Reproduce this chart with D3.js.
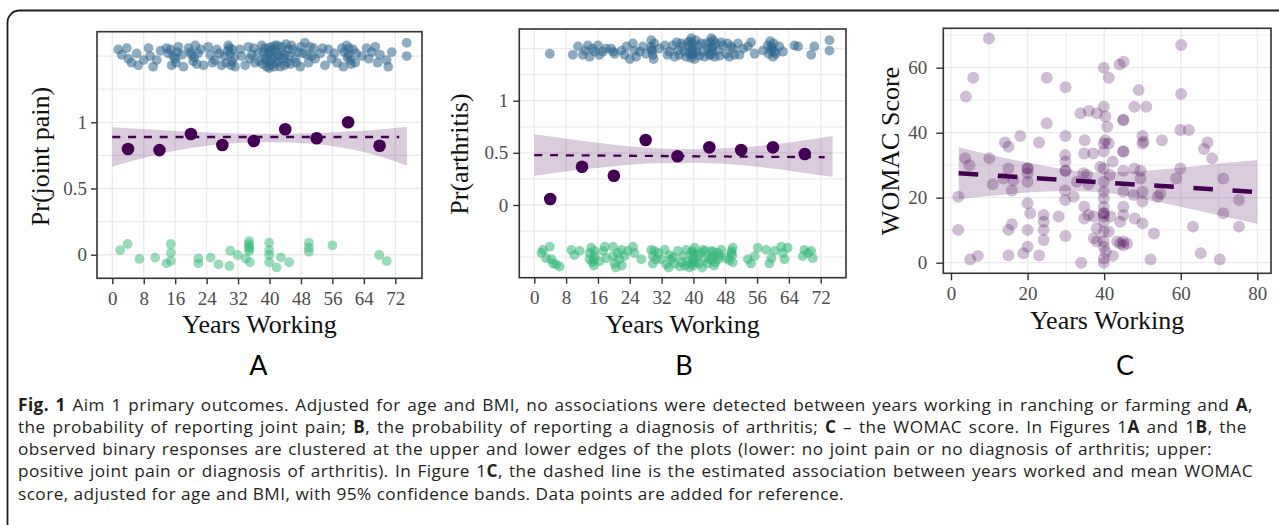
<!DOCTYPE html>
<html><head><meta charset="utf-8">
<script src="https://cdn.jsdelivr.net/npm/d3@7"></script>
<style>body{margin:0;background:#fff;}svg{display:block;}</style>
</head><body>
<svg id="fig" width="1279" height="525"></svg>
<script>
// ---------------- DATA ----------------
const xTicksAB = [0, 8, 16, 24, 32, 40, 48, 56, 64, 72];
const xTicksC = [0, 20, 40, 60, 80];
const xMinorC = [10, 30, 50, 70];
const yTicksA = [0, 0.5, 1];
const yTickLabelsA = ["0", "0.5", "1"];
const yGridA = [0, 0.25, 0.5, 0.75, 1, 1.25, 1.5];
const yTicksB = [0, 0.5, 1];
const yTickLabelsB = ["0", "0.5", "1"];
const yGridB = [-0.5, -0.25, 0, 0.25, 0.5, 0.75, 1, 1.25, 1.5];
const yTicksC = [0, 20, 40, 60];
const yMinorC = [10, 30, 50, 70];

// binned means (purple dots)
const binMids = [4, 12, 20, 28, 36, 44, 52, 60, 68];
const meansA = [0.798, 0.790, 0.912, 0.829, 0.859, 0.947, 0.879, 1.0, 0.823];
const meansB = [0.057, 0.367, 0.280, 0.623, 0.467, 0.553, 0.527, 0.553, 0.489];

// fitted lines (dashed)
const fitXA = [0, 73], fitYA = [0.889, 0.889];
const fitXB = [0, 73], fitYB = [0.479, 0.458];
const fitXC = [2, 79], fitYC = [27.5, 21.8];

// confidence bands
const bandXAB = [0, 10, 20, 30, 40, 50, 60, 70, 75];
const bandHiA = [0.962, 0.945, 0.928, 0.917, 0.913, 0.918, 0.930, 0.952, 0.967];
const bandLoA = [0.665, 0.745, 0.805, 0.840, 0.850, 0.840, 0.800, 0.725, 0.672];
const bandHiB = [0.678, 0.625, 0.578, 0.545, 0.535, 0.548, 0.580, 0.632, 0.662];
const bandLoB = [0.280, 0.330, 0.372, 0.400, 0.405, 0.388, 0.350, 0.295, 0.271];
const bandXC = [2, 10, 20, 30, 40, 50, 60, 70, 80];
const bandHiC = [35.5, 33.3, 30.8, 28.7, 27.8, 28.2, 29.2, 30.5, 31.6];
const bandLoC = [19.6, 20.5, 21.6, 22.1, 21.6, 19.6, 17.2, 14.5, 12.0];

// observed responses, A (joint pain yes = upper, no = lower)
const obsYesA = [[1.5,1.55],[2.4,1.51],[3.7,1.56],[4.1,1.48],[4.9,1.45],[6.2,1.52],[6.6,1.43],
[9.2,1.56],[9.6,1.50],[10.4,1.42],[11.3,1.47],[13.8,1.56],[14.3,1.52],[15.1,1.43],[16.0,1.48],[16.8,1.57],[17.7,1.51],[18.1,1.42],
[19.4,1.56],[20.2,1.51],[20.6,1.46],[21.1,1.58],[23.2,1.43],[24.4,1.57],[24.9,1.51],[26.1,1.47],[26.6,1.55],[27.8,1.43],[29.5,1.58],[30.0,1.52],[30.4,1.46],[31.2,1.42],
[32.5,1.55],[32.9,1.50],[33.8,1.43],[34.6,1.57],[35.5,1.51],[36.3,1.45],[38.0,1.58],[38.4,1.53],[38.9,1.48],[39.3,1.42],[39.7,1.56],[40.1,1.46],[40.6,1.51],[41.4,1.58],
[41.8,1.52],[42.3,1.46],[42.7,1.42],[43.1,1.57],[44.0,1.51],[44.4,1.45],[44.8,1.55],[45.6,1.58],[46.5,1.48],[47.3,1.53],[47.8,1.42],[49.0,1.60],[49.5,1.51],[49.9,1.45],
[51.2,1.56],[51.6,1.48],[52.9,1.52],[54.1,1.43],[55.0,1.55],[55.8,1.48],[58.4,1.56],[58.8,1.42],[59.6,1.58],[60.1,1.51],[60.5,1.47],[61.3,1.55],[61.8,1.45],
[63.5,1.50],[64.7,1.56],[66.0,1.53],[66.9,1.57],[68.1,1.51],[69.8,1.47],[70.2,1.42],[71.1,1.53],[74.9,1.60],[74.9,1.50],
[14.8,1.55],[15.5,1.50],[16.2,1.45],[19.8,1.53],[20.8,1.49],[21.5,1.44],[22.5,1.55],[28.5,1.50],[29.0,1.45],[29.8,1.56],[30.6,1.55],[31.0,1.49],
[35.0,1.48],[36.0,1.56],[37.0,1.52],[37.5,1.46],[38.2,1.44],[38.7,1.56],[39.5,1.51],[40.0,1.53],[40.3,1.43],[40.8,1.48],[41.0,1.55],[41.6,1.45],[42.0,1.58],[42.5,1.50],
[43.5,1.48],[44.2,1.59],[45.0,1.50],[45.3,1.44],[46.0,1.55],[46.8,1.45],[48.0,1.57],[48.5,1.52],[50.3,1.57],[50.8,1.50],[59.0,1.53],[59.8,1.49],[60.3,1.56],[60.8,1.44],[62.0,1.52],
[8.0,1.47],[12.3,1.54],[25.5,1.45],[27.2,1.52],[53.5,1.56],[56.5,1.52],[57.2,1.45],[65.2,1.48],[67.5,1.45],
[39.2,1.47],[39.9,1.41],[40.5,1.57],[41.2,1.42],[42.9,1.53],[43.8,1.43],[29.3,1.54],[30.2,1.43],[21.8,1.52],[16.5,1.53]];
const obsNoA = [[2.0,0.035],[3.9,0.081],[6.9,-0.032],[10.9,-0.022],[13.8,-0.065],[14.9,0.081],[14.9,0.015],[14.9,-0.048],
[21.9,-0.028],[21.9,-0.065],[25.0,-0.022],[27.0,-0.073],[29.8,-0.085],[30.0,0.03],[31.9,-0.002],[33.9,-0.028],
[34.8,0.103],[34.8,0.06],[34.8,0.027],[35.0,-0.057],[39.9,0.091],[39.9,0.035],[39.9,-0.002],[39.9,-0.057],
[41.8,-0.096],[42.9,-0.02],[45.0,-0.057],[50.0,0.091],[50.0,0.053],[50.0,0.022],[56.0,0.071],[67.9,-0.002],[69.8,-0.048],
[34.9,0.045],[34.7,0.08]];

// observed responses, B (arthritis yes = upper, no = lower)
const obsYesB = [[3.9,1.45],[9.7,1.44],[11.0,1.52],[12.2,1.44],[13.5,1.53],[13.9,1.42],[15.2,1.47],[16.0,1.53],[16.4,1.44],
[19.8,1.47],[20.2,1.45],[21.9,1.48],[22.7,1.44],[24.0,1.40],[24.8,1.55],[25.2,1.48],[25.6,1.42],[27.3,1.52],[28.1,1.45],[29.4,1.58],[29.4,1.52],[29.8,1.44],[30.2,1.55],
[32.8,1.53],[34.0,1.47],[34.8,1.53],[35.3,1.42],[36.1,1.48],[36.9,1.55],[37.8,1.47],[38.6,1.56],[39.0,1.52],[39.5,1.60],[39.5,1.44],[39.9,1.50],[40.3,1.40],[41.1,1.53],
[42.4,1.47],[43.2,1.55],[44.1,1.44],[44.5,1.60],[44.9,1.52],[45.3,1.42],[46.2,1.48],[47.4,1.53],[48.2,1.45],[49.5,1.52],[50.3,1.44],[51.2,1.55],
[53.7,1.52],[54.5,1.56],[55.4,1.45],[57.5,1.48],[58.7,1.53],[59.6,1.52],[60.0,1.42],[60.4,1.47],[61.6,1.52],[65.4,1.53],[66.3,1.52],[69.6,1.44],[70.4,1.52],[74.2,1.58],[74.2,1.48],
[29.6,1.48],[30.0,1.40],[35.8,1.56],[36.5,1.44],[37.2,1.52],[38.2,1.42],[38.9,1.46],[39.2,1.57],[39.7,1.55],[40.0,1.45],[40.6,1.58],[40.8,1.47],[41.5,1.43],[42.0,1.55],
[42.8,1.42],[43.6,1.50],[44.3,1.56],[44.7,1.47],[45.0,1.58],[45.6,1.55],[46.6,1.43],[47.0,1.56],[48.6,1.55],[49.0,1.42],[50.0,1.50],[51.6,1.44],[52.5,1.50],
[58.9,1.45],[59.3,1.57],[59.8,1.50],[60.2,1.55],[60.7,1.45],[62.5,1.47],[26.5,1.47],[23.2,1.52],[18.0,1.50],[17.2,1.47],[14.6,1.50],[12.8,1.48],[19.3,1.50],[33.5,1.44],[31.5,1.50],
[29.5,1.49],[39.6,1.48],[39.4,1.41],[44.6,1.50],[44.4,1.44],[59.5,1.48]];
const obsNoB = [[1.8,-0.46],[2.2,-0.43],[3.0,-0.51],[3.9,-0.40],[4.3,-0.52],[4.7,-0.56],[5.5,-0.57],[6.4,-0.59],
[9.3,-0.43],[10.1,-0.48],[11.4,-0.44],[13.9,-0.52],[13.9,-0.46],[14.3,-0.41],[15.2,-0.49],[16.4,-0.54],[17.3,-0.44],[17.7,-0.40],[18.1,-0.51],
[19.8,-0.40],[19.8,-0.49],[20.2,-0.56],[21.0,-0.46],[21.4,-0.52],[21.9,-0.43],[22.7,-0.49],[23.5,-0.44],[24.8,-0.40],[25.2,-0.46],[26.9,-0.52],
[29.4,-0.43],[29.8,-0.49],[29.8,-0.56],[30.2,-0.44],[31.9,-0.52],[32.8,-0.43],[33.2,-0.57],[34.0,-0.48],[34.4,-0.52],[35.3,-0.56],[36.1,-0.44],
[37.4,-0.49],[38.2,-0.43],[38.6,-0.54],[39.5,-0.46],[39.5,-0.56],[39.9,-0.51],[40.3,-0.41],[41.1,-0.48],[41.5,-0.56],[42.4,-0.43],[42.8,-0.51],[43.6,-0.56],[44.5,-0.44],[44.9,-0.49],[46.2,-0.46],[46.2,-0.52],
[47.0,-0.43],[48.2,-0.51],[49.5,-0.46],[49.9,-0.41],[53.7,-0.52],[54.5,-0.56],[55.4,-0.49],[56.2,-0.41],[58.3,-0.43],[59.1,-0.56],[59.6,-0.51],[60.4,-0.44],[62.1,-0.40],[62.5,-0.46],[62.9,-0.52],[63.7,-0.41],
[67.5,-0.49],[67.9,-0.43],[68.8,-0.46],[69.6,-0.44],[70.0,-0.51],
[30.6,-0.52],[31.2,-0.46],[35.0,-0.50],[37.0,-0.55],[38.0,-0.58],[39.0,-0.60],[40.0,-0.58],[40.6,-0.55],[41.8,-0.46],[43.0,-0.44],[44.0,-0.52],[45.5,-0.55],[46.6,-0.49],[49.0,-0.53],[49.8,-0.48],
[15.0,-0.58],[14.6,-0.55],[22.0,-0.58],[20.5,-0.60],[33.8,-0.60],[36.6,-0.59],[42.2,-0.60],
[39.7,-0.44],[40.1,-0.53],[40.2,-0.47],[44.7,-0.52],[45.0,-0.45],[45.2,-0.58],[49.6,-0.44],[49.9,-0.55],[15.1,-0.44],[15.0,-0.52]];

// WOMAC scores (C)
const womac = [[9.9,69],[60.1,67],[5.8,56.9],[3.9,51.1],[25,56.9],[29.9,54],[39.9,60],[41.2,56.9],[44,61],[45.1,61.8],[49,53.1],[60.1,51.9],
[47.9,48],[51,48],[33.8,46],[36,46.7],[38.1,46],[39.9,48],[40.3,45],[40.8,41.8],[45,43.9],[45,43.9],[25,42.9],[18.1,39],[14.1,37],[15,35.7],[23,37],
[29.9,39],[34.9,37.7],[39.9,36.7],[41.2,36.7],[50,39],[50.3,37.2],[50,36.7],[55.1,37.7],[59.9,40.8],[62.1,40.8],[67,37],[66.1,35],[68.2,32.1],
[3.7,32.1],[4.8,30],[10,32.1],[34.8,33.6],[37.1,33.6],[29.8,33.1],[29.9,31.1],[39.9,34.2],[42.2,31.1],[45,34.2],[45,34.2],[45,28.3],[47.9,29],[49.5,28.3],
[59.9,29],[58.8,25.9],[71.1,25.9],[20,29],[20,29],[20,27.5],[15,29],[13.7,25.9],[16.3,25.4],[20,24.9],[10.9,24.1],[15.9,22.2],[29.9,28.3],[29.9,28.3],
[32.9,24.9],[35.5,27],[35.9,24.1],[39.9,24.9],[39.9,29],[39,29.5],[29.8,22.2],[32,20.3],[29.8,19.3],[39.9,21.8],[39.9,19.8],[45,21.8],[47.7,20.8],[50,21.8],
[50,18.8],[54,20.3],[54.7,21.3],[75.2,19.3],[1.9,20.3],[20,18.3],[20.7,15.2],[24.2,14.7],[24.2,12.6],[28.1,14.2],[34.8,17.2],[34.8,13.6],[35.9,14.7],[37.3,14.2],
[39.9,15.2],[39.9,15.2],[39.9,14.2],[39.9,17.2],[39.9,12.6],[41.6,14.2],[45,17.2],[45,14.7],[44.2,12.6],[50,12.1],[53,9],[63.2,11.1],[71.1,15.2],[75.2,11.1],
[1.9,10.1],[15,10.1],[15.9,11.8],[20,10.1],[24.2,10.1],[24.2,7],[20,4.9],[18.9,2.9],[15,2.2],[23,2.2],[29.9,8.2],[37.3,7.5],[38.1,6.5],[38.1,10.6],
[39.9,9.5],[39.9,6.5],[39.9,4.9],[40.4,3.4],[39.9,1.3],[39.9,0],[42.3,2.1],[41.2,9.5],[45,6.5],[45,5.4],[44.2,5.9],[46,5.9],[43.4,6.5],[34,0],
[52.1,1],[65.2,2.9],[70.2,1],[5,1],[7,2.1],[48,13.6],[34.6,27.5],[49.5,25.9],[40.3,37.7],[41.5,27]];

// text
const xTitle = "Years Working";
const yTitles = ["Pr(joint pain)", "Pr(arthritis)", "WOMAC Score"];
const panelLetters = ["A", "B", "C"];
const captionLines = [
  [["Fig. 1", true], [" Aim 1 primary outcomes. Adjusted for age and BMI, no associations were detected between years working in ranching or farming and ", false], ["A", true], [",", false]],
  [["the probability of reporting joint pain; ", false], ["B", true], [", the probability of reporting a diagnosis of arthritis; ", false], ["C", true], [" \u2013 the WOMAC score. In Figures 1", false], ["A", true], [" and 1", false], ["B", true], [", the", false]],
  [["observed binary responses are clustered at the upper and lower edges of the plots (lower: no joint pain or no diagnosis of arthritis; upper:", false]],
  [["positive joint pain or diagnosis of arthritis). In Figure 1", false], ["C", true], [", the dashed line is the estimated association between years worked and mean WOMAC", false]],
  [["score, adjusted for age and BMI, with 95% confidence bands. Data points are added for reference.", false]]
];

// ---------------- COLOURS ----------------
const PURPLE = "#440154", BLUE = "#31688e", GREEN = "#35b779";
const SERIF = "'Liberation Serif', 'Times New Roman', serif";

// ---------------- DRAW ----------------
const svg = d3.select("#fig");
svg.append("rect").attr("width", 1279).attr("height", 525).attr("fill", "#fff");
svg.append("rect").attr("x", 7.5).attr("y", 10.5).attr("width", 1400).attr("height", 700)
  .attr("rx", 12).attr("fill", "none").attr("stroke", "#1e1e1e").attr("stroke-width", 1.8);

function makePanel(cfg) {
  const x = d3.scaleLinear().domain(cfg.xDom).range([cfg.left, cfg.right]);
  const y = d3.scaleLinear().domain(cfg.yDom).range([cfg.bottom, cfg.top]);
  const g = svg.append("g");
  const clipId = "clip" + cfg.id;
  g.append("clipPath").attr("id", clipId).append("rect")
    .attr("x", cfg.left).attr("y", cfg.top).attr("width", cfg.right - cfg.left).attr("height", cfg.bottom - cfg.top);
  const grid = g.append("g").attr("stroke", "#ebebeb");
  (cfg.xMinor || []).forEach(v => grid.append("line").attr("x1", x(v)).attr("x2", x(v)).attr("y1", cfg.top).attr("y2", cfg.bottom).attr("stroke-width", 0.8));
  (cfg.yMinor || []).forEach(v => grid.append("line").attr("y1", y(v)).attr("y2", y(v)).attr("x1", cfg.left).attr("x2", cfg.right).attr("stroke-width", 0.8));
  cfg.xGrid.forEach(v => grid.append("line").attr("x1", x(v)).attr("x2", x(v)).attr("y1", cfg.top).attr("y2", cfg.bottom).attr("stroke-width", 1.3));
  cfg.yGrid.forEach(v => grid.append("line").attr("y1", y(v)).attr("y2", y(v)).attr("x1", cfg.left).attr("x2", cfg.right).attr("stroke-width", 1.3));
  const data = g.append("g").attr("clip-path", `url(#${clipId})`);
  return { x, y, g, data, cfg };
}

function finishPanel(p, yTicks, yLabels, letter, yTitle, opts) {
  const { x, y, g, cfg } = p;
  g.append("rect").attr("x", cfg.left).attr("y", cfg.top).attr("width", cfg.right - cfg.left).attr("height", cfg.bottom - cfg.top)
    .attr("fill", "none").attr("stroke", "#333").attr("stroke-width", 1.6);
  const ax = g.append("g").attr("transform", `translate(0,${cfg.bottom})`)
    .call(d3.axisBottom(x).tickValues(cfg.xTicks).tickSize(opts.tick).tickPadding(opts.padX).tickFormat(d3.format("d")));
  const ay = g.append("g").attr("transform", `translate(${cfg.left},0)`)
    .call(d3.axisLeft(y).tickValues(yTicks).tickSize(opts.tick).tickPadding(opts.padY).tickFormat((d, i) => yLabels[i]));
  [ax, ay].forEach(a => {
    a.select(".domain").remove();
    a.selectAll("line").attr("stroke", "#333").attr("stroke-width", 1.4);
    a.selectAll("text").attr("font-family", SERIF).attr("font-size", 19).attr("fill", "#4d4d4d");
  });
  const cx = (cfg.left + cfg.right) / 2;
  svg.append("text").attr("x", cx).attr("y", opts.xTitleY).attr("text-anchor", "middle")
    .attr("font-family", SERIF).attr("font-size", 26).attr("fill", "#111").text(xTitle);
  svg.append("text").attr("transform", `translate(${opts.yTitleX},${opts.yTitleCY}) rotate(-90)`).attr("text-anchor", "middle")
    .attr("font-family", SERIF).attr("font-size", 26).attr("fill", "#111").text(yTitle);
  svg.append("text").attr("x", opts.letterX).attr("y", 375).attr("text-anchor", "middle")
    .attr("font-family", "Lato, 'Open Sans', sans-serif").attr("font-size", 27).attr("fill", "#000").text(letter);
}

function band(p, xs, lo, hi) {
  const area = d3.area().x(d => p.x(d[0])).y0(d => p.y(d[1])).y1(d => p.y(d[2])).curve(d3.curveMonotoneX);
  p.data.append("path").datum(xs.map((v, i) => [v, lo[i], hi[i]])).attr("d", area)
    .attr("fill", PURPLE).attr("fill-opacity", 0.2);
}
function fit(p, xs, ys, w, dash) {
  const line = d3.line().x(d => p.x(d[0])).y(d => p.y(d[1]));
  p.data.append("path").datum(xs.map((v, i) => [v, ys[i]])).attr("d", line)
    .attr("fill", "none").attr("stroke", PURPLE).attr("stroke-width", w).attr("stroke-dasharray", dash);
}
function dots(p, pts, color, r, op) {
  p.data.append("g").selectAll("circle").data(pts).join("circle")
    .attr("cx", d => p.x(d[0])).attr("cy", d => p.y(d[1])).attr("r", r)
    .attr("fill", color).attr("fill-opacity", op);
}

// ----- Panel A -----
const pA = makePanel({ id: "A", left: 97, right: 422, top: 31.7, bottom: 278.3, xDom: [-3.89, 78.79], yDom: [-0.178, 1.684],
  xTicks: xTicksAB, xGrid: xTicksAB, yGrid: yGridA });
band(pA, bandXAB, bandLoA, bandHiA);
fit(pA, fitXA, fitYA, 2.3, "8,7.8");
dots(pA, binMids.map((v, i) => [v, meansA[i]]), PURPLE, 6.3, 1);
dots(pA, obsYesA, BLUE, 4.9, 0.55);
dots(pA, obsNoA, GREEN, 4.9, 0.5);
finishPanel(pA, yTicksA, yTickLabelsA, panelLetters[0], yTitles[0],
  { tick: 6, padX: 7, padY: 4, xTitleY: 333, yTitleX: 49, yTitleCY: 156.5, letterX: 258.5 });

// ----- Panel B -----
const pB = makePanel({ id: "B", left: 519.3, right: 846, top: 29, bottom: 277.7, xDom: [-3.77, 78.36], yDom: [-0.697, 1.6875],
  xTicks: xTicksAB, xGrid: xTicksAB, yGrid: yGridB });
band(pB, bandXAB, bandLoB, bandHiB);
fit(pB, fitXB, fitYB, 2.3, "8,7.8");
dots(pB, binMids.map((v, i) => [v, meansB[i]]), PURPLE, 6.3, 1);
dots(pB, obsYesB, BLUE, 4.9, 0.55);
dots(pB, obsNoB, GREEN, 4.9, 0.55);
finishPanel(pB, yTicksB, yTickLabelsB, panelLetters[1], yTitles[1],
  { tick: 6, padX: 7, padY: 5, xTitleY: 333.3, yTitleX: 468, yTitleCY: 154, letterX: 684 });

// ----- Panel C -----
const pC = makePanel({ id: "C", left: 943.3, right: 1271, top: 28.3, bottom: 273.3, xDom: [-2.01, 83.57], yDom: [-3.26, 72.12],
  xTicks: xTicksC, xGrid: xTicksC, xMinor: xMinorC, yGrid: yTicksC, yMinor: yMinorC });
band(pC, bandXC, bandLoC, bandHiC);
dots(pC, womac, PURPLE, 6, 0.25);
fit(pC, fitXC, fitYC, 4.5, "19.6,19.6");
finishPanel(pC, yTicksC, yTicksC.map(String), panelLetters[2], yTitles[2],
  { tick: 7, padX: 6.5, padY: 9, xTitleY: 328.5, yTitleX: 899, yTitleCY: 151, letterX: 1125 });

// ----- Caption -----
const capBaselines = [410.5, 432.8, 455.1, 477.4, 499.7];
const capRight = [1253, 1247, 1212, 1253, 844];
const cap = svg.append("g").attr("font-family", "'Open Sans', sans-serif").attr("font-size", 17.2).attr("fill", "#231f20");
const capNodes = captionLines.map((segs, i) => {
  const t = cap.append("text").attr("x", 18).attr("y", capBaselines[i]);
  segs.forEach(s => t.append("tspan").attr("font-weight", s[1] ? 700 : 400).text(s[0]));
  return t;
});
const nChars = segs => segs.map(s => s[0]).join("").length;
const lastIdx = captionLines.length - 1;
const w5 = capNodes[lastIdx].node().getBBox().width;
const ls = (capRight[lastIdx] - 18 - w5) / nChars(captionLines[lastIdx]);
capNodes.forEach(t => t.attr("letter-spacing", ls));
capNodes.forEach((t, i) => {
  if (i === lastIdx) return;
  const w = t.node().getBBox().width;
  const spaces = (captionLines[i].map(s => s[0]).join("").match(/ /g) || []).length;
  t.attr("word-spacing", (capRight[i] - 18 - w) / spaces);
});
</script>
</body></html>
